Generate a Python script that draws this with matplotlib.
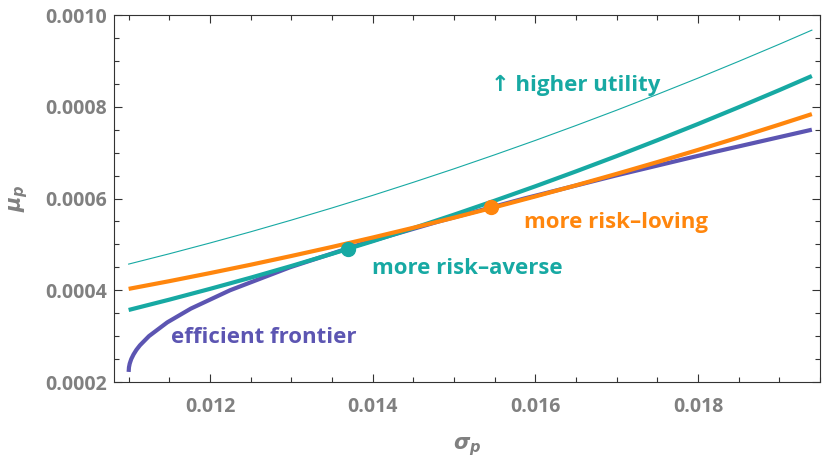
import numpy as np
import matplotlib
matplotlib.use("Agg")
import matplotlib.pyplot as plt
from matplotlib.ticker import MultipleLocator, FormatStrFormatter

plt.rcParams["font.family"] = ["Open Sans", "DejaVu Sans"]
plt.rcParams["mathtext.fontset"] = "custom"
plt.rcParams["mathtext.it"] = "DejaVu Sans:italic:bold"
plt.rcParams["mathtext.rm"] = "DejaVu Sans:bold"

# efficient frontier (read as mu -> sigma)
front_mu = [0.000222, 0.000232, 0.000240, 0.000250, 0.000260, 0.000270, 0.000280,
            0.000300, 0.000330, 0.000360, 0.000400, 0.000450, 0.000500, 0.000550,
            0.000600, 0.000650, 0.000700, 0.000750]
front_sigma = [0.011000, 0.011004, 0.011013, 0.011032, 0.011060, 0.011095, 0.011139,
               0.011250, 0.011475, 0.011765, 0.012247, 0.012983, 0.013845, 0.014813,
               0.015865, 0.016987, 0.018166, 0.019400]

# indifference curves, sampled on a common sigma grid
curve_sigma = [0.0110, 0.0115, 0.0120, 0.0125, 0.0130, 0.0135, 0.0140, 0.0145, 0.0150,
               0.0155, 0.0160, 0.0165, 0.0170, 0.0175, 0.0180, 0.0185, 0.0190, 0.0194]
averse_mu = [0.000357, 0.0003795, 0.000403, 0.0004274, 0.0004529, 0.0004794, 0.0005068,
             0.0005353, 0.0005647, 0.0005952, 0.0006266, 0.0006591, 0.0006925, 0.000727,
             0.0007624, 0.0007989, 0.0008363, 0.000867]
higher_mu = [0.000457, 0.0004795, 0.000503, 0.0005274, 0.0005529, 0.0005794, 0.0006068,
             0.0006353, 0.0006647, 0.0006952, 0.0007266, 0.0007591, 0.0007925, 0.000827,
             0.0008624, 0.0008989, 0.0009363, 0.000967]
loving_mu = [0.000403, 0.0004198, 0.0004374, 0.0004556, 0.0004747, 0.0004944, 0.0005149,
             0.0005362, 0.0005582, 0.000581, 0.0006045, 0.0006287, 0.0006537, 0.0006794,
             0.0007059, 0.0007331, 0.0007611, 0.000784]

# tangency points
averse_pt = (0.01370, 0.000490)
loving_pt = (0.01546, 0.000581)

PURPLE = "#5C55B2"
TEAL = "#17A9A3"
ORANGE = "#FF860D"
GRAY = "#808080"

fig = plt.figure(figsize=(8.22, 4.61), dpi=100)
ax = fig.add_axes([114 / 822, 1 - 382 / 461, (820 - 114) / 822, (382 - 15) / 461])

ax.plot(front_sigma, front_mu, color=PURPLE, lw=3.0, solid_capstyle="butt", zorder=2)
ax.plot(curve_sigma, higher_mu, color=TEAL, lw=0.8, zorder=2)
ax.plot(curve_sigma, averse_mu, color=TEAL, lw=3.0, solid_capstyle="butt", zorder=3)
ax.plot(curve_sigma, loving_mu, color=ORANGE, lw=3.0, solid_capstyle="butt", zorder=4)
ax.plot(*averse_pt, "o", color=TEAL, ms=10, zorder=5)
ax.plot(*loving_pt, "o", color=ORANGE, ms=10, zorder=5)

tkw = dict(fontsize=16, fontweight="bold", ha="center", va="center")
ax.text(0.01650, 0.000847, "↑ higher utility", color=TEAL, **tkw)
ax.text(0.01516, 0.000447, "more risk–averse", color=TEAL, **tkw)
ax.text(0.01699, 0.000547, "more risk–loving", color=ORANGE, **tkw)
ax.text(0.01266, 0.0002965, "efficient frontier", color=PURPLE, **tkw)

ax.set_xlim(0.01082, 0.01950)
ax.set_ylim(0.0002, 0.0010)
ax.xaxis.set_major_locator(MultipleLocator(0.002))
ax.xaxis.set_minor_locator(MultipleLocator(0.0005))
ax.yaxis.set_major_locator(MultipleLocator(0.0002))
ax.yaxis.set_minor_locator(MultipleLocator(0.00005))
ax.xaxis.set_major_formatter(FormatStrFormatter("%.3f"))
ax.yaxis.set_major_formatter(FormatStrFormatter("%.4f"))

ax.tick_params(which="both", direction="in", top=True, right=True, color="#333333", width=0.8)
ax.tick_params(which="major", length=6, pad=11, labelsize=14, labelcolor=GRAY)
ax.tick_params(which="minor", length=3.5)
ax.tick_params(axis="y", which="major", pad=5)
for lab in ax.get_xticklabels() + ax.get_yticklabels():
    lab.set_fontweight("bold")
for sp in ax.spines.values():
    sp.set_color("#333333")
    sp.set_linewidth(0.8)

ax.set_xlabel(r"$\sigma_p$", fontsize=15, color=GRAY, labelpad=13)
ax.set_ylabel(r"$\mu_p$", fontsize=15, color=GRAY, labelpad=11)

fig.savefig("out.png", dpi=100)
